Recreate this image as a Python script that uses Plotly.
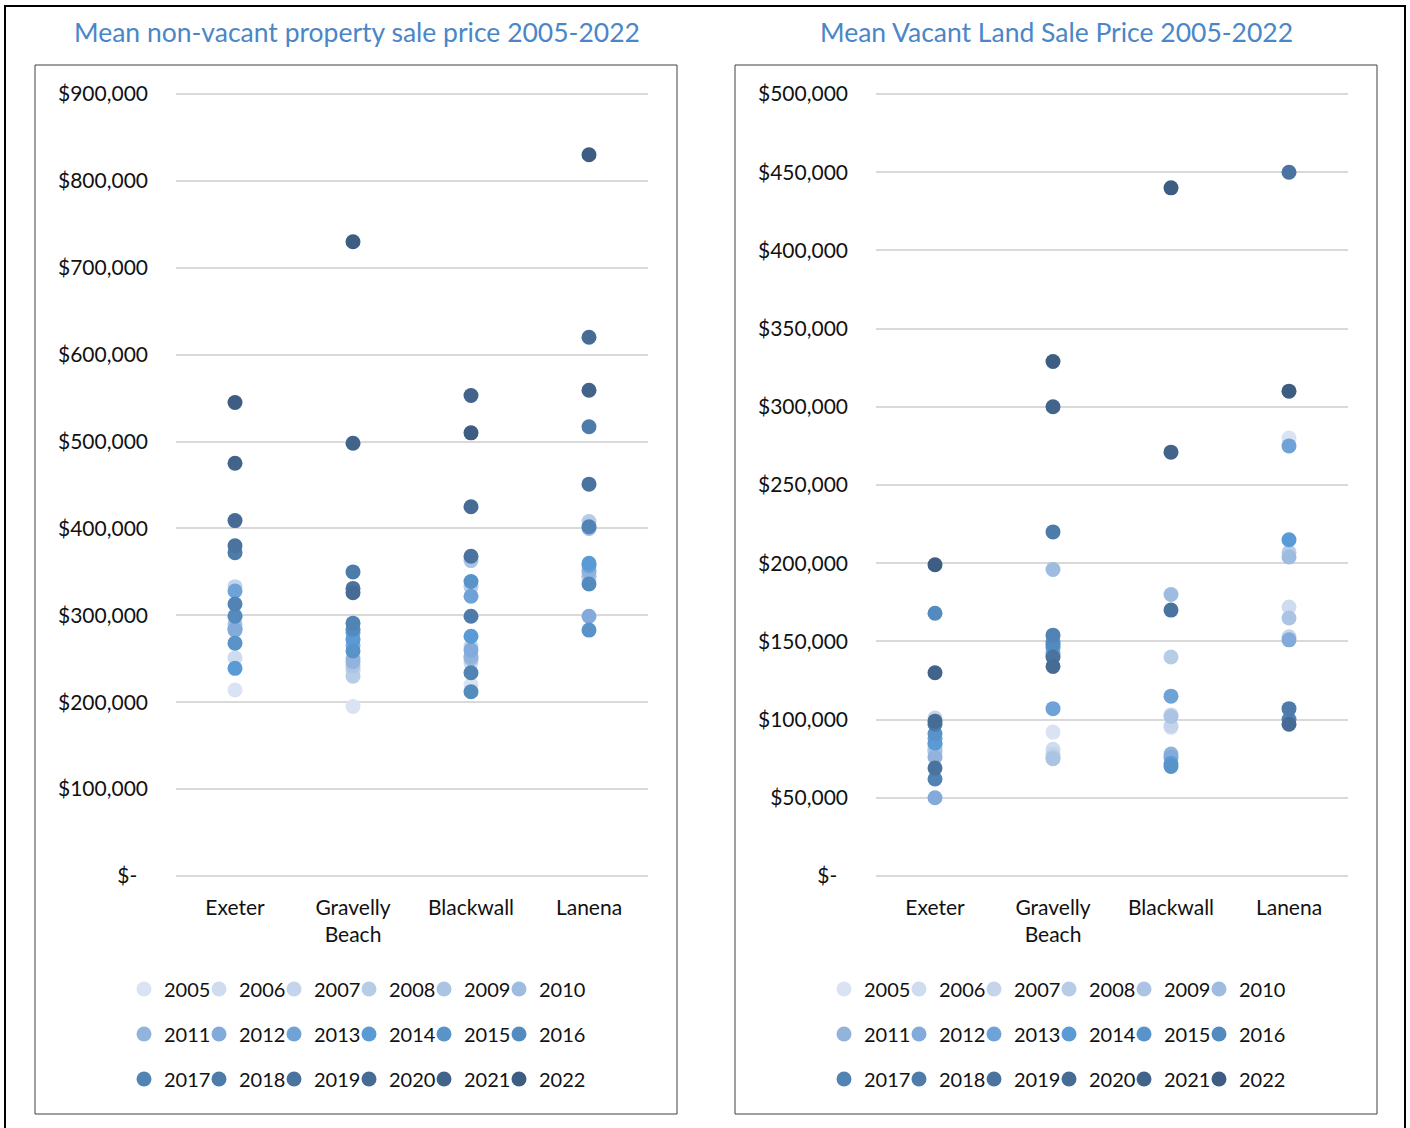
import plotly.graph_objects as go

# ---- data -------------------------------------------------------------
years = list(range(2005, 2023))
suburbs = ["Exeter", "Gravelly Beach", "Blackwall", "Lanena"]
suburb_labels = ["Exeter", "Gravelly<br>Beach", "Blackwall", "Lanena"]

# mean non-vacant property sale price, $ thousands, 2005..2022
nv_exeter = [214, 251, 333, 300, 290, 285, 285, 283, 328, 239, 268, 299, 313, 372, 380, 409, 475, 545]
nv_gravelly = [195, 239, 236, 230, 242, 250, 247, 265, 280, 272, 259, 284, 291, 350, 331, 326, 498, 730]
nv_blackwall = [220, 245, 264, 333, 363, 250, 253, 260, 322, 276, 339, 212, 234, 299, 368, 425, 553, 510]
nv_lanena = [340, 345, 352, 408, 345, 400, 350, 299, 357, 360, 283, 336, 402, 517, 451, 620, 559, 830]

# mean vacant land sale price, $ thousands, 2005..2022 (None = no sales)
vl_exeter = [78, 80, 101, 82, 80, 84, 76, 50, 88, 85, 91, 168, 62, 97, 69, 99, 130, 199]
vl_gravelly = [92, 81, 78, 76, 75, 196, 143, 141, 107, 146, 150, 148, 154, 220, 140, 134, 300, 329]
vl_blackwall = [95, 103, 96, 140, 102, 180, 78, 76, 115, 72, 70, None, None, None, 170, None, 271, 440]
vl_lanena = [280, 172, 153, 207, 165, 204, None, 151, 275, 215, None, None, 100, 107, 450, 97, None, 310]

nv_ticks = [0, 100000, 200000, 300000, 400000, 500000, 600000, 700000, 800000, 900000]
vl_ticks = [0, 50000, 100000, 150000, 200000, 250000, 300000, 350000, 400000, 450000, 500000]

# monochromatic blue ramp, light (2005) to dark (2022)
year_colors = ["#dae3f3", "#cfdcef", "#c3d4eb", "#b7cce7", "#abc4e3", "#9ebbe0",
               "#91b3dc", "#82aada", "#6fa3d8", "#5b9bd5", "#5893ca", "#548bbf",
               "#5183b4", "#4d7baa", "#4a749f", "#466c95", "#42648b", "#3d5d82"]

W, H = 1410, 1128
FONT = "Lato, 'Open Sans', sans-serif"
TEXT = "#111111"


def px(x):
    return x / W


def py(y):
    return 1 - y / H


def money(v):
    return "$-\u00a0\u00a0" if v == 0 else "${:,.0f}".format(v)


fig = go.Figure()

panels = [
    dict(series=[nv_exeter, nv_gravelly, nv_blackwall, nv_lanena], xa="x", ya="y", legends=["legend", "legend2", "legend3"]),
    dict(series=[vl_exeter, vl_gravelly, vl_blackwall, vl_lanena], xa="x2", ya="y2", legends=["legend4", "legend5", "legend6"]),
]

for p in panels:
    for i, yr in enumerate(years):
        vals = [s[i] * 1000 if s[i] is not None else None for s in p["series"]]
        fig.add_trace(go.Scatter(
            x=suburbs, y=vals, mode="markers", name=str(yr),
            marker=dict(size=15, color=year_colors[i], line=dict(width=0)),
            xaxis=p["xa"], yaxis=p["ya"], legend=p["legends"][i // 6],
            legendwidth=60 if i % 6 == 5 else None,
            cliponaxis=False,
            hovertemplate="%{x}<br>" + str(yr) + ": $%{y:,.0f}<extra></extra>",
        ))

axis_font = dict(family=FONT, size=21, color=TEXT)
common_x = dict(type="category", categoryorder="array", categoryarray=suburbs,
                tickvals=suburbs, ticktext=suburb_labels, range=[-0.5, 3.5],
                showgrid=False, zeroline=False, showline=False, ticks="",
                tickfont=axis_font, ticklabelstandoff=9, fixedrange=True)
common_y = dict(showgrid=True, gridcolor="#d9d9d9", gridwidth=2, zeroline=False,
                showline=False, ticks="", tickfont=axis_font, ticklabelstandoff=27,
                fixedrange=True)

# value axes padded by 1% each side so the top and bottom gridlines are drawn
pad_px = (876 - 94) * 0.01
ydom = [py(876 + pad_px), py(94 - pad_px)]
fig.update_layout(
    xaxis=dict(domain=[px(176), px(648)], anchor="y", **common_x),
    yaxis=dict(domain=ydom, anchor="x", range=[-9000, 909000], tickvals=nv_ticks,
               ticktext=[money(v) for v in nv_ticks], **common_y),
    xaxis2=dict(domain=[px(876), px(1348)], anchor="y2", **common_x),
    yaxis2=dict(domain=ydom, anchor="x2", range=[-5000, 505000], tickvals=vl_ticks,
                ticktext=[money(v) for v in vl_ticks], **common_y),
)

# three legend rows under each chart
leg_common = dict(orientation="h", entrywidth=30, entrywidthmode="pixels",
                  font=dict(family=FONT, size=20, color=TEXT), bgcolor="rgba(0,0,0,0)",
                  borderwidth=0, xanchor="left", yanchor="middle", itemclick=False,
                  itemdoubleclick=False, traceorder="normal")
row_y = [989, 1034, 1079]
for k, name in enumerate(["legend", "legend2", "legend3", "legend4", "legend5", "legend6"]):
    left = 124 if k < 3 else 824
    fig.update_layout({name: dict(x=px(left), y=py(row_y[k % 3]), **leg_common)})

# chart frames and the outer border
shapes = [
    dict(type="rect", xref="paper", yref="paper", x0=px(5), x1=px(1405), y0=py(1140), y1=py(6),
         line=dict(color="#000000", width=2)),
    dict(type="rect", xref="paper", yref="paper", x0=px(35), x1=px(677), y0=py(1114), y1=py(65),
         line=dict(color="#404040", width=1)),
    dict(type="rect", xref="paper", yref="paper", x0=px(735), x1=px(1377), y0=py(1114), y1=py(65),
         line=dict(color="#404040", width=1)),
]

titles = [
    ("Mean non-vacant property sale price 2005-2022", 357),
    ("Mean Vacant Land Sale Price 2005-2022", 1056),
]
annotations = [
    dict(text=t, x=px(cx), y=py(32), xref="paper", yref="paper", xanchor="center",
         yanchor="middle", showarrow=False, font=dict(family=FONT, size=26.5, color="#4a86c8"))
    for t, cx in titles
]

fig.update_layout(
    width=W, height=H, margin=dict(l=0, r=0, t=0, b=0, autoexpand=False),
    paper_bgcolor="white", plot_bgcolor="white",
    shapes=shapes, annotations=annotations, showlegend=True,
    font=dict(family=FONT, color=TEXT),
)

fig.write_html("out.html")
